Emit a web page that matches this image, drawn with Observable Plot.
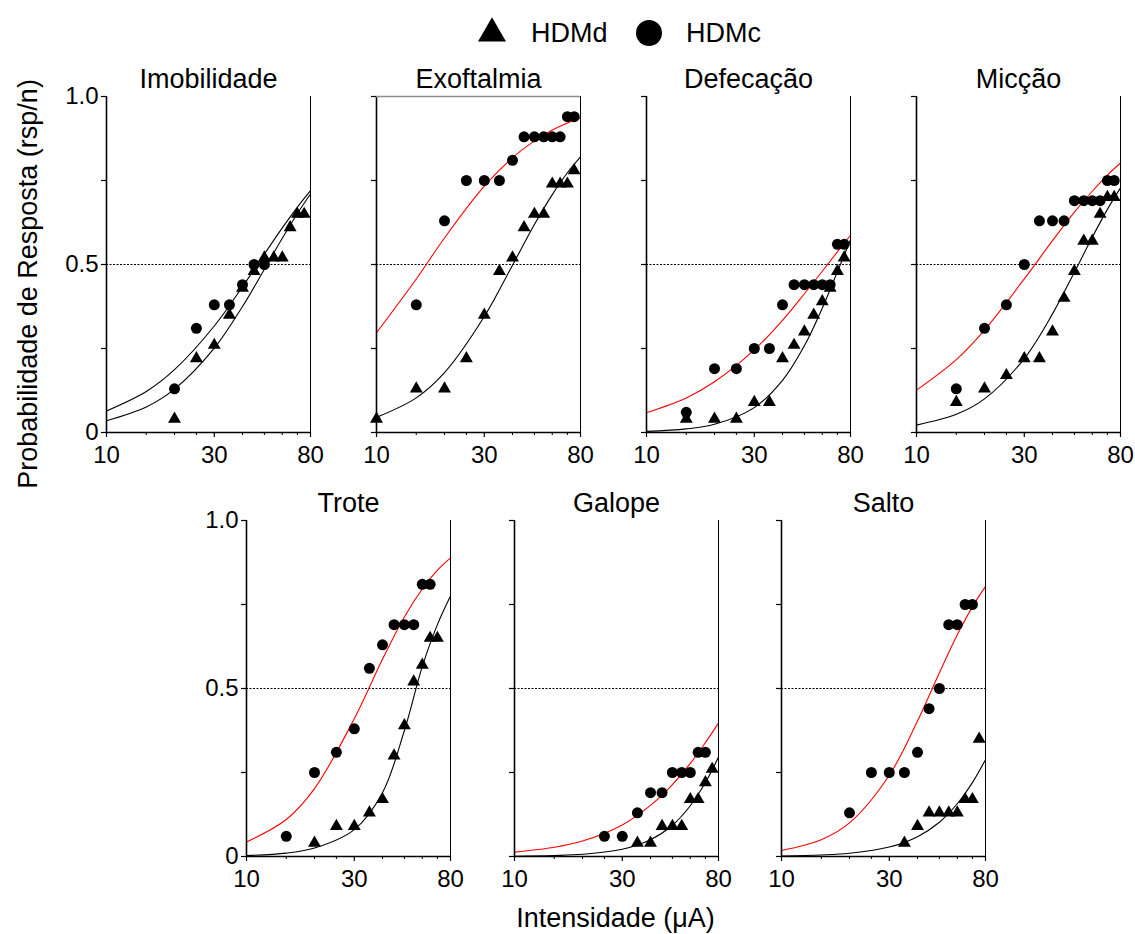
<!DOCTYPE html>
<html>
<head>
<meta charset="utf-8">
<script src="https://cdn.jsdelivr.net/npm/d3@7"></script>
<script src="https://cdn.jsdelivr.net/npm/@observablehq/plot@0.6"></script>
<style>
  body { margin: 0; background: #fff; }
  #chart { position: relative; width: 1135px; height: 934px; font-family: "Liberation Sans", Arial, sans-serif; }
  #chart > svg { position: absolute; }
</style>
</head>
<body>
<div id="chart"></div>
<script>
// ---------- axis / tick data ----------
const xTickValues = [10, 30, 80];
const xTickLabels = ["10", "30", "80"];
const xMinorTicks = [15, 20, 25, 40, 50, 60, 70];
const yTickValues = [0, 0.25, 0.5, 0.75, 1];
const yTickLabels = ["0", "", "0.5", "", "1.0"];
const seriesNames = ["HDMd", "HDMc"];
const fitX = [10, 15, 20, 30, 40, 50, 60, 70, 80];

// ---------- Imobilidade ----------
const imobDX = [20, 25, 30, 35, 40, 45, 50, 55, 60, 65, 70, 75];
const imobDY = [0.04, 0.22, 0.26, 0.35, 0.43, 0.48, 0.52, 0.52, 0.52, 0.61, 0.65, 0.65];
const imobCX = [20, 25, 30, 35, 40, 45, 50];
const imobCY = [0.13, 0.31, 0.38, 0.38, 0.44, 0.50, 0.50];
const imobFitD = [0.035, 0.076, 0.129, 0.251, 0.375, 0.486, 0.578, 0.652, 0.71];
const imobFitC = [0.064, 0.122, 0.187, 0.317, 0.434, 0.531, 0.609, 0.671, 0.72];

// ---------- Exoftalmia ----------
const exoDX = [10, 15, 20, 25, 30, 35, 40, 45, 50, 55, 60, 65, 70, 75];
const exoDY = [0.04, 0.13, 0.13, 0.22, 0.35, 0.48, 0.52, 0.61, 0.65, 0.65, 0.74, 0.74, 0.74, 0.78];
const exoCX = [15, 20, 25, 30, 35, 40, 45, 50, 55, 60, 65, 70, 75];
const exoCY = [0.38, 0.63, 0.75, 0.75, 0.75, 0.81, 0.88, 0.88, 0.88, 0.88, 0.88, 0.94, 0.94];
const exoFitD = [0.045, 0.103, 0.178, 0.345, 0.498, 0.619, 0.708, 0.773, 0.82];
const exoFitC = [0.297, 0.457, 0.579, 0.733, 0.818, 0.868, 0.900, 0.921, 0.936];

// ---------- Defecação ----------
const defDX = [15, 20, 25, 30, 35, 40, 45, 50, 55, 60, 65, 70, 75];
const defDY = [0.04, 0.04, 0.04, 0.09, 0.09, 0.22, 0.26, 0.30, 0.35, 0.39, 0.43, 0.48, 0.52];
const defCX = [15, 20, 25, 30, 35, 40, 45, 50, 55, 60, 65, 70, 75];
const defCY = [0.06, 0.19, 0.19, 0.25, 0.25, 0.38, 0.44, 0.44, 0.44, 0.44, 0.44, 0.56, 0.56];
const defFitD = [0.0034, 0.0107, 0.0243, 0.074, 0.155, 0.258, 0.370, 0.478, 0.574];
const defFitC = [0.059, 0.103, 0.151, 0.246, 0.334, 0.413, 0.480, 0.538, 0.587];

// ---------- Micção ----------
const micDX = [15, 20, 25, 30, 35, 40, 45, 50, 55, 60, 65, 70, 75];
const micDY = [0.09, 0.13, 0.17, 0.22, 0.22, 0.30, 0.40, 0.48, 0.57, 0.57, 0.65, 0.70, 0.70];
const micCX = [15, 20, 25, 30, 35, 40, 45, 50, 55, 60, 65, 70, 75];
const micCY = [0.13, 0.31, 0.38, 0.50, 0.63, 0.63, 0.63, 0.69, 0.69, 0.69, 0.69, 0.75, 0.75];
const micFitD = [0.022, 0.054, 0.100, 0.220, 0.353, 0.477, 0.581, 0.664, 0.728];
const micFitC = [0.126, 0.217, 0.305, 0.457, 0.571, 0.656, 0.718, 0.766, 0.802];

// ---------- Trote ----------
const troDX = [20, 25, 30, 35, 40, 45, 50, 55, 60, 65, 70];
const troDY = [0.04, 0.09, 0.09, 0.13, 0.17, 0.30, 0.39, 0.52, 0.57, 0.65, 0.65];
const troCX = [15, 20, 25, 30, 35, 40, 45, 50, 55, 60, 65];
const troCY = [0.06, 0.25, 0.31, 0.38, 0.56, 0.63, 0.69, 0.69, 0.69, 0.81, 0.81];
const troFitD = [0.003, 0.010, 0.025, 0.080, 0.190, 0.375, 0.565, 0.690, 0.775];
const troFitC = [0.043, 0.110, 0.202, 0.410, 0.587, 0.713, 0.796, 0.852, 0.889];

// ---------- Galope ----------
const galDX = [35, 40, 45, 50, 55, 60, 65, 70, 75];
const galDY = [0.04, 0.04, 0.09, 0.09, 0.09, 0.17, 0.17, 0.22, 0.26];
const galCX = [25, 30, 35, 40, 45, 50, 55, 60, 65, 70];
const galCY = [0.06, 0.06, 0.13, 0.19, 0.19, 0.25, 0.25, 0.25, 0.31, 0.31];
const galFitD = [0.0008, 0.0028, 0.0065, 0.0217, 0.050, 0.093, 0.151, 0.220, 0.296];
const galFitC = [0.013, 0.0275, 0.046, 0.094, 0.152, 0.214, 0.277, 0.339, 0.397];

// ---------- Salto ----------
const salDX = [35, 40, 45, 50, 55, 60, 65, 70, 75];
const salDY = [0.04, 0.09, 0.13, 0.13, 0.13, 0.13, 0.17, 0.17, 0.35];
const salCX = [20, 25, 30, 35, 40, 45, 50, 55, 60, 65, 70];
const salCY = [0.13, 0.25, 0.25, 0.25, 0.31, 0.44, 0.50, 0.69, 0.69, 0.75, 0.75];
const salFitD = [0.0015, 0.0044, 0.0095, 0.028, 0.059, 0.102, 0.157, 0.220, 0.288];
const salFitC = [0.018, 0.050, 0.100, 0.242, 0.403, 0.547, 0.660, 0.743, 0.804];

// ---------- panel table built from the arrays ----------
const panels = [
  {title: "Imobilidade", dx: imobDX, dy: imobDY, cx: imobCX, cy: imobCY, fd: imobFitD, fc: imobFitC, cColor: "black", left: 106, top: 95.5, labels: true},
  {title: "Exoftalmia", dx: exoDX, dy: exoDY, cx: exoCX, cy: exoCY, fd: exoFitD, fc: exoFitC, cColor: "#ff0000", left: 376, top: 95.5, labels: false, topLine: true},
  {title: "Defecação", dx: defDX, dy: defDY, cx: defCX, cy: defCY, fd: defFitD, fc: defFitC, cColor: "#ff0000", left: 646, top: 95.5, labels: false},
  {title: "Micção", dx: micDX, dy: micDY, cx: micCX, cy: micCY, fd: micFitD, fc: micFitC, cColor: "#ff0000", left: 916, top: 95.5, labels: false},
  {title: "Trote", dx: troDX, dy: troDY, cx: troCX, cy: troCY, fd: troFitD, fc: troFitC, cColor: "#ff0000", left: 246, top: 520, labels: true},
  {title: "Galope", dx: galDX, dy: galDY, cx: galCX, cy: galCY, fd: galFitD, fc: galFitC, cColor: "#ff0000", left: 514, top: 520, labels: false},
  {title: "Salto", dx: salDX, dy: salDY, cx: salCX, cy: salCY, fd: salFitD, fc: salFitC, cColor: "#ff0000", left: 781, top: 520, labels: false}
];

const FONT = "'Liberation Sans', Arial, sans-serif";
const chart = document.getElementById("chart");

// ---------- overlay: legend and shared axis titles ----------
const overlay = d3.select(chart).append("svg")
  .attr("width", 1135).attr("height", 934)
  .style("left", "0px").style("top", "0px")
  .style("font-family", FONT);

overlay.append("path")
  .attr("d", d3.symbol(d3.symbolTriangle, 339)())
  .attr("transform", "translate(492,33.4)")
  .attr("fill", "black");
overlay.append("text").attr("x", 531).attr("y", 41.7)
  .attr("font-size", 27).text(seriesNames[0]);
overlay.append("circle").attr("cx", 649).attr("cy", 33).attr("r", 13).attr("fill", "black");
overlay.append("text").attr("x", 686).attr("y", 41.7)
  .attr("font-size", 27).text(seriesNames[1]);

overlay.append("text")
  .attr("transform", "translate(37,284) rotate(-90)")
  .attr("text-anchor", "middle").attr("font-size", 27)
  .text("Probabilidade de Resposta (rsp/n)");
overlay.append("text")
  .attr("x", 615.5).attr("y", 926.5)
  .attr("text-anchor", "middle").attr("font-size", 27)
  .text("Intensidade (μA)");

// ---------- panels ----------
const ML = 60, MR = 30, MT = 60, MB = 45, FW = 204, FH = 336;
const xTickData = xTickValues.map((v, i) => ({v, label: xTickLabels[i]}));

for (const p of panels) {
  const ptsD = p.dx.map((x, i) => ({x, y: p.dy[i]}));
  const ptsC = p.cx.map((x, i) => ({x, y: p.cy[i]}));
  const lineD = fitX.map((x, i) => ({x, y: p.fd[i]}));
  const lineC = fitX.map((x, i) => ({x, y: p.fc[i]}));

  const marks = [
    Plot.ruleY([0.5], {stroke: "black", strokeWidth: 1, strokeDasharray: "2,1.5"}),
    Plot.line(lineD, {x: "x", y: "y", stroke: "black", strokeWidth: 1.1, curve: "catmull-rom"}),
    Plot.line(lineC, {x: "x", y: "y", stroke: p.cColor, strokeWidth: 1.1, curve: "catmull-rom"}),
    Plot.dot(ptsD, {x: "x", y: "y", symbol: "triangle", r: 4.8, fill: "black", stroke: "none"}),
    Plot.dot(ptsC, {x: "x", y: "y", symbol: "circle", r: 5.5, fill: "black", stroke: "none"}),
    Plot.ruleX([10], {stroke: "black", strokeWidth: 1.6}),
    Plot.ruleY([0], {stroke: "black", strokeWidth: 1.6}),
    Plot.ruleX([80], {stroke: "black", strokeWidth: 1}),
    Plot.axisY(yTickValues, {
      anchor: "left", tickSize: 5, tickPadding: 3, fontSize: 24, label: null, strokeWidth: 1.2,
      tickFormat: p.labels ? (d => yTickLabels[yTickValues.indexOf(d)]) : (() => "")
    }),
    Plot.axisX(xTickValues, {anchor: "bottom", tickSize: 5, label: null, strokeWidth: 1.2, tickFormat: () => ""}),
    Plot.axisX(xMinorTicks, {anchor: "bottom", tickSize: 3, label: null, tickFormat: () => ""}),
    Plot.text(xTickData, {x: "v", text: "label", frameAnchor: "bottom", dy: 13, lineAnchor: "top", fontSize: 24, fill: "black"}),
    Plot.text([p.title], {frameAnchor: "top", dy: -8.5, lineAnchor: "bottom", fontSize: 27, text: d => d, fill: "black"})
  ];
  if (p.topLine) marks.push(Plot.ruleY([1], {stroke: "#8c8c8c", strokeWidth: 1.5}));

  const svg = Plot.plot({
    width: ML + FW + MR,
    height: MT + FH + MB,
    marginLeft: ML, marginRight: MR, marginTop: MT, marginBottom: MB,
    style: {background: "none", overflow: "visible", fontFamily: FONT, color: "black"},
    x: {type: "log", domain: [10, 80], axis: null},
    y: {domain: [0, 1], axis: null},
    marks
  });
  svg.style.position = "absolute";
  svg.style.left = (p.left - ML) + "px";
  svg.style.top = (p.top - MT) + "px";
  chart.appendChild(svg);
}
</script>
</body>
</html>
